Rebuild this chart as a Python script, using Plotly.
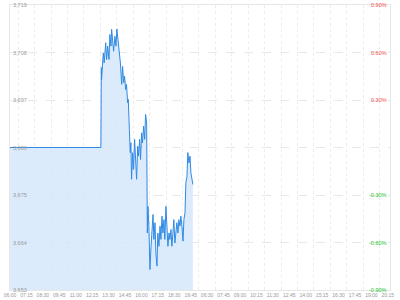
import plotly.graph_objects as go

# ---- data ----
base_price = 3686.0
minutes = [0, 415, 417, 418, 426, 430, 437, 441, 446, 452, 456, 461, 464, 469, 473, 479, 484, 488,
           494, 499, 504, 510, 514, 519, 523, 528, 532, 537, 540, 545, 549, 552, 555, 560, 564,
           569, 574, 578, 583, 587, 592, 596, 601, 605, 610, 615, 619, 624, 627, 630, 634, 639,
           644, 648, 653, 657, 662, 666, 671, 675, 680, 685, 689, 694, 698, 703, 707, 712, 717,
           721, 726, 730, 735, 739, 744, 748, 753, 758, 762, 767, 771, 776, 780, 785, 790, 794,
           799, 803, 808, 812, 817, 822, 826, 831, 835]
prices = [3686.0, 3686.0, 3704.6, 3701.8, 3708.0, 3705.7, 3710.4, 3706.5, 3709.6, 3706.5, 3712.3,
          3709.6, 3713.5, 3710.4, 3708.4, 3711.9, 3709.6, 3713.6, 3711.1, 3708.4, 3705.7, 3700.7,
          3704.9, 3701.1, 3702.6, 3699.5, 3700.7, 3696.4, 3697.2, 3690.2, 3684.8, 3687.1, 3678.6,
          3684.8, 3680.9, 3687.9, 3683.2, 3678.6, 3686.3, 3684.0, 3687.9, 3683.2, 3689.4, 3687.1,
          3691.0, 3687.9, 3693.7, 3691.7, 3666.1, 3672.3, 3667.7, 3657.6, 3663.0, 3667.7, 3670.4,
          3664.6, 3668.5, 3661.5, 3658.4, 3666.1, 3663.0, 3667.7, 3664.6, 3670.0, 3666.1, 3669.2,
          3664.6, 3672.3, 3667.7, 3663.0, 3666.1, 3664.6, 3666.9, 3663.0, 3666.1, 3669.2, 3663.8,
          3666.9, 3668.5, 3666.1, 3669.2, 3667.7, 3670.0, 3667.7, 3664.2, 3669.2, 3670.8, 3677.8,
          3679.3, 3684.8, 3682.4, 3684.0, 3680.1, 3678.6, 3677.4]
x_tick_labels = ["06:00", "07:15", "08:30", "09:45", "11:00", "12:15", "13:30", "14:45",
                 "16:00", "17:15", "18:30", "19:45", "06:30", "07:45", "09:00", "10:15",
                 "11:30", "12:45", "14:00", "15:15", "16:30", "17:45", "19:00", "20:15"]
pct_steps = [-0.9, -0.6, -0.3, 0.0, 0.3, 0.6, 0.9]

tick_minutes = [75 * i for i in range(len(x_tick_labels))]
price_ticks = [base_price * (1 + p / 100) for p in pct_steps]
price_text = [f"{v:,.0f}" for v in price_ticks]

fig = go.Figure()
fig.add_trace(go.Scatter(
    x=minutes, y=prices, mode="lines",
    line=dict(color="#2f8ae5", width=1),
    fill="tozeroy", fillcolor="rgba(214,232,251,0.85)",
    hoverinfo="skip", showlegend=False,
))

FONT = "Liberation Sans"
annotations = []
for p, v, t in zip(pct_steps, price_ticks, price_text):
    annotations.append(dict(
        x=0, xref="paper", xanchor="left", y=v, yref="y", yanchor="middle",
        text=t, showarrow=False, xshift=1,
        font=dict(size=5.5, color="#999", family=FONT),
    ))
    if p == 0:
        continue
    annotations.append(dict(
        x=1, xref="paper", xanchor="right", y=v, yref="y", yanchor="middle",
        text=f"{p:.2f}%", showarrow=False, xshift=-1,
        font=dict(size=5.5, color="#f24b4b" if p > 0 else "#22c32e", family=FONT),
    ))

fig.update_layout(
    width=400, height=300,
    margin=dict(l=10, r=10, t=5, b=10, autoexpand=False),
    paper_bgcolor="white", plot_bgcolor="white",
    font=dict(family=FONT, size=5, color="#999"),
    annotations=annotations,
    xaxis=dict(
        range=[0, 1735], tickmode="array", tickvals=tick_minutes, ticktext=x_tick_labels,
        tickangle=0, automargin=False,
        showgrid=False, zeroline=False, ticks="", tickfont=dict(size=5, color="#999"),
        showline=True, linecolor="#e6e6e6", linewidth=1, mirror=True,
        minor=dict(tickmode="linear", tick0=37.5, dtick=75, showgrid=True,
                   gridcolor="#ececec", griddash="dot", gridwidth=1, ticks=""),
    ),
    yaxis=dict(
        range=[price_ticks[0], price_ticks[-1]], tickmode="array",
        tickvals=price_ticks, showticklabels=False, automargin=False,
        showgrid=True, gridcolor="#e8e8e8", griddash="dash", gridwidth=1,
        zeroline=False, ticks="",
        showline=True, linecolor="#e6e6e6", linewidth=1, mirror=True,
    ),
)

fig.write_html("out.html")
